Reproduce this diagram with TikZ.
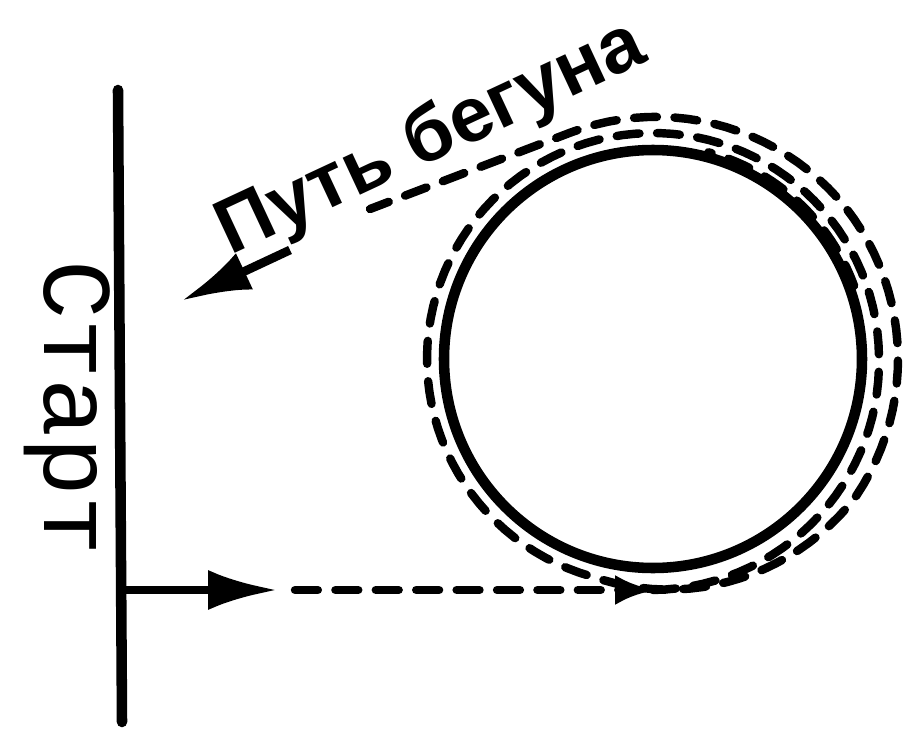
\documentclass[tikz,border=0pt]{standalone}
\usepackage{fontspec}
\newfontfamily\startfont{Liberation Mono}
\newfontfamily\routefont{Liberation Sans}
\usetikzlibrary{arrows.meta}
\tikzset{
  line/.style={line width=6pt,line cap=round},
  route/.style={line width=4.8pt,dash pattern=on 13pt off 10pt,line cap=round},
  runner/.style={-{Latex[length=14mm,width=8mm]},line width=5pt},
  declare function={rr(\t)=226+5*max(0,-\t)/90+19*min(1,max(0,(\t-255)/70))-4*max(0,\t-400)/70;}
}

\begin{document}
\begin{tikzpicture}[x=0.02cm,y=0.02cm]
\useasboundingbox (0,0) rectangle (904,-734);

% start line and track
\coordinate (top) at (118,-90);
\coordinate (bot) at (122,-722);
\coordinate (s) at (120,-590);
\coordinate (sa) at (278,-590);
\coordinate (d) at (295,-590);
\coordinate (t) at (655,-590);
\coordinate (c) at (653,-359);
\coordinate (e) at (370,-209);
\coordinate (ea) at (290,-250);
\coordinate (eb) at (181,-301);

\draw[line] (top) -- (bot);
\draw[line] (c) circle[radius=209];

\node[rotate=-90,anchor=base] (start) at (45,-408) {\startfont\fontsize{56}{58}\selectfont Старт};
\node[rotate=25,anchor=base] (path) at (440,-158) {\routefont\bfseries\fontsize{44}{46}\selectfont Путь бегуна};

% runner's way
\draw[runner] (s) -- (sa);
\draw[route,-{Latex[length=8mm,width=6mm]}] (d) -- (t);
\draw[route] plot[domain=-90:470,samples=180,variable=\t] ({653+rr(\t)*cos(\t)},{-359+rr(\t)*sin(\t)}) -- (e);
\draw[route] ([shift={(c)}]20:214) arc[start angle=20,end angle=75,radius=214];
\draw[runner] (ea) -- (eb);

\end{tikzpicture}
\end{document}
